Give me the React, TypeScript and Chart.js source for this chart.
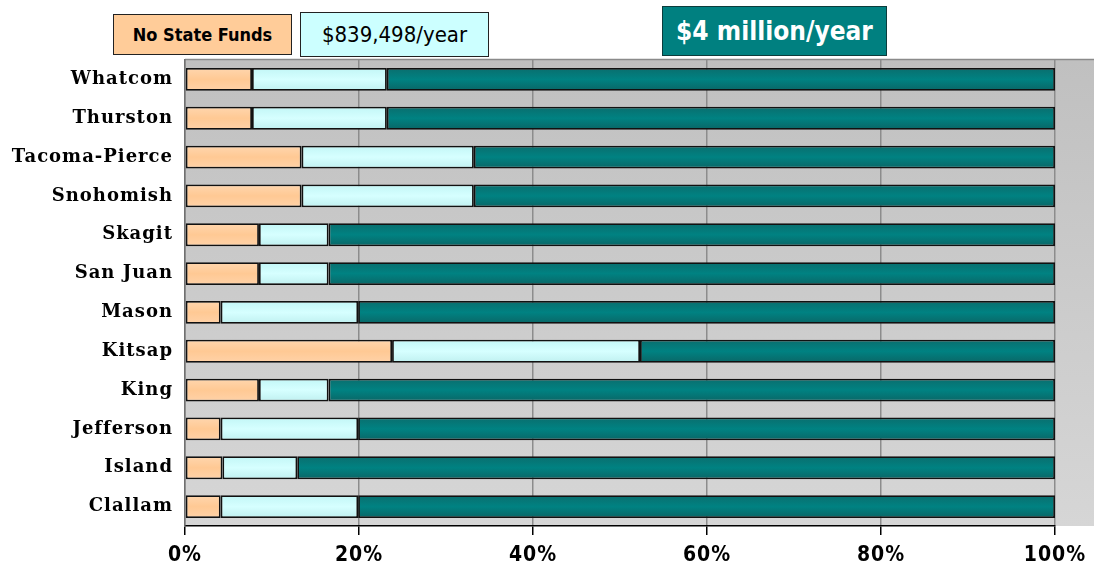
import React, { useEffect, useRef } from "react";
import { Chart, registerables } from "chart.js";

Chart.register(...registerables);

const counties = [
  "Whatcom",
  "Thurston",
  "Tacoma-Pierce",
  "Snohomish",
  "Skagit",
  "San Juan",
  "Mason",
  "Kitsap",
  "King",
  "Jefferson",
  "Island",
  "Clallam",
];

// share of each funding scenario (percent of 100%)
const noStateFunds = [7.7, 7.7, 13.4, 13.4, 8.5, 8.5, 4.1, 23.8, 8.5, 4.1, 4.3, 4.1];
const funds839k = [15.5, 15.5, 19.8, 19.8, 8.0, 8.0, 15.8, 28.5, 8.0, 15.8, 8.6, 15.8];
const funds4m = [76.8, 76.8, 66.8, 66.8, 83.5, 83.5, 80.1, 47.7, 83.5, 80.1, 87.1, 80.1];

const xTicks = [0, 20, 40, 60, 80, 100];

const seriesNames = ["No State Funds", "$839,498/year", "$4 million/year"];
const seriesColors = ["#FFCC99", "#CCFFFF", "#008080"];
// edge / middle shades for the bar shading
const seriesShades = [
  ["#ffd6ae", "#ffc994", "#ffd2a8"],
  ["#c2f6f6", "#d6ffff", "#bff0f0"],
  ["#0a6e6e", "#008282", "#0a6666"],
];

const BAR_PCT = 0.59;

const bgPlugin = {
  id: "plotBg",
  beforeDraw(chart: any) {
    const { ctx, chartArea } = chart;
    const right = chart.width;
    const g = ctx.createLinearGradient(0, chartArea.top, 0, chartArea.bottom);
    g.addColorStop(0, "#c0c0c0");
    g.addColorStop(1, "#d6d6d6");
    ctx.save();
    ctx.fillStyle = g;
    ctx.fillRect(chartArea.left, chartArea.top, right - chartArea.left, chartArea.bottom - chartArea.top);
    ctx.strokeStyle = "#8a8a8a";
    ctx.lineWidth = 1.5;
    ctx.beginPath();
    ctx.moveTo(chartArea.left, chartArea.top - 0.5);
    ctx.lineTo(right, chartArea.top - 0.5);
    ctx.stroke();
    ctx.restore();
    ctx.letterSpacing = "1px";
  },
  afterDraw(chart: any) {
    chart.ctx.letterSpacing = "0px";
  },
};

export default function App() {
  const ref = useRef<HTMLCanvasElement>(null);

  useEffect(() => {
    const values = [noStateFunds, funds839k, funds4m];
    const shaded = (i: number) => (c: any) => {
      const chart = c.chart;
      const y = chart.scales && chart.scales.y;
      if (!chart.chartArea || !y || c.dataIndex === undefined) return seriesColors[i];
      const py = y.getPixelForValue(c.dataIndex);
      const h = (chart.chartArea.bottom - chart.chartArea.top) / counties.length * BAR_PCT;
      const g = chart.ctx.createLinearGradient(0, py - h / 2, 0, py + h / 2);
      g.addColorStop(0, seriesShades[i][0]);
      g.addColorStop(0.5, seriesShades[i][1]);
      g.addColorStop(1, seriesShades[i][2]);
      return g;
    };
    const chart = new Chart(ref.current!, {
      type: "bar",
      data: {
        labels: counties,
        datasets: values.map((d, i) => ({
          label: seriesNames[i],
          data: d,
          backgroundColor: shaded(i),
          borderColor: "#111",
          borderWidth: 1.8,
          borderSkipped: false,
          barPercentage: BAR_PCT,
          categoryPercentage: 1,
        })),
      },
      options: {
        indexAxis: "y",
        animation: false,
        responsive: false,
        layout: { padding: { top: 60, right: 39, left: 0, bottom: 0 } },
        plugins: { legend: { display: false }, tooltip: { enabled: false } },
        scales: {
          x: {
            stacked: true,
            min: 0,
            max: 100,
            afterBuildTicks: (s: any) => {
              s.ticks = xTicks.map((v) => ({ value: v }));
            },
            afterFit: (s: any) => {
              s.height = 50;
            },
            ticks: {
              callback: (v: any) => v + "%",
              color: "#000",
              padding: 8,
              font: { family: "'Liberation Sans Narrow', 'DejaVu Sans Condensed', sans-serif", size: 21, weight: "bold" },
            },
            grid: {
              color: "#8c8c8c",
              lineWidth: 1.5,
              tickLength: 9,
              tickColor: "#000",
              tickWidth: 1.5,
            },
            border: { display: true, color: "#000", width: 1.5 },
          },
          y: {
            stacked: true,
            afterFit: (s: any) => {
              s.width = 185;
            },
            ticks: {
              color: "#000",
              padding: 12,
              font: { family: "'DejaVu Serif', serif", size: 18, weight: "bold" },
            },
            grid: { display: false, drawTicks: false },
            border: { display: true, color: "#707070", width: 1.5 },
          },
        },
      },
      plugins: [bgPlugin],
    } as any);
    return () => chart.destroy();
  }, []);

  const legendFont = "'Liberation Sans Narrow', 'DejaVu Sans Condensed', sans-serif";

  return (
    <div style={{ position: "absolute", left: 0, top: 0, width: 1094, height: 576, background: "#fff" }}>
      <canvas ref={ref} width={1094} height={576} style={{ position: "absolute", left: 0, top: 0 }} />
      <div
        style={{
          position: "absolute", left: 113, top: 14, width: 179, height: 41, boxSizing: "border-box",
          background: "#FFCC99", border: "1.5px solid #222", display: "flex", alignItems: "center",
          justifyContent: "center", fontFamily: legendFont, fontWeight: "bold", fontSize: 18, color: "#000",
        }}
      >
        {seriesNames[0]}
      </div>
      <div
        style={{
          position: "absolute", left: 300, top: 12, width: 189, height: 45, boxSizing: "border-box",
          background: "#CCFFFF", border: "1.5px solid #222", display: "flex", alignItems: "center",
          justifyContent: "center", fontFamily: legendFont, fontSize: 22, color: "#000",
        }}
      >
        {seriesNames[1]}
      </div>
      <div
        style={{
          position: "absolute", left: 662, top: 6, width: 225, height: 50, boxSizing: "border-box",
          background: "#008080", border: "1.5px solid #0c3c3c", display: "flex", alignItems: "center",
          justifyContent: "center", fontFamily: legendFont, fontWeight: "bold", fontSize: 26, color: "#fff",
        }}
      >
        {seriesNames[2]}
      </div>
    </div>
  );
}
